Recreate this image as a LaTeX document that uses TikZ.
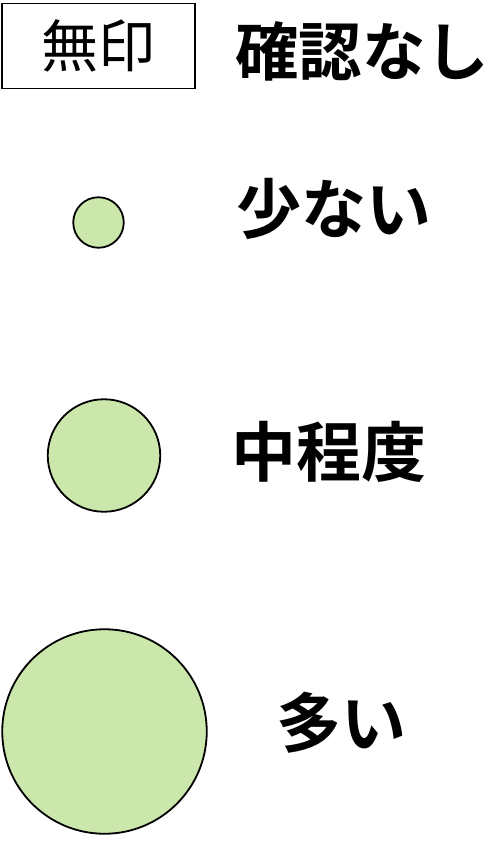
\documentclass[tikz,border=0pt]{standalone}
\usepackage{fontspec}
\newfontfamily\cjk{Noto Sans CJK JP}
\newfontfamily\cjkb{Noto Sans CJK JP}[BoldFont={Noto Sans CJK JP Bold}]
\definecolor{gfill}{HTML}{CBE7AB}
\tikzset{
  dot/.style={circle,draw=black,fill=gfill,line width=1.8pt,inner sep=0pt},
  lab/.style={inner sep=0pt,font=\cjkb\bfseries\fontsize{65}{65}\selectfont,anchor=center},
  labtight/.style={inner sep=0pt,font=\cjkb\bfseries\fontsize{63.5}{63.5}\selectfont,anchor=center}
}
\begin{document}
\begin{tikzpicture}[x=1pt,y=-1pt]
\useasboundingbox (0,0) rectangle (495,868);
\node[draw=black,line width=1.5pt,minimum width=193pt,minimum height=85pt,inner sep=0pt,font=\cjk\fontsize{57}{57}\selectfont] (box) at (98.5,46) {無印};
\node[labtight] (t1) at (362,51) {確認なし};
\node[dot,minimum size=50.5pt] (c1) at (98.5,222.5) {};
\node[lab] (t2) at (334,209) {少ない};
\node[dot,minimum size=112.5pt] (c2) at (104,455.5) {};
\node[lab] (t3) at (329,452) {中程度};
\node[dot,minimum size=204.5pt] (c3) at (104.5,731.5) {};
\node[lab] (t4) at (341,723) {多い};
\end{tikzpicture}
\end{document}
